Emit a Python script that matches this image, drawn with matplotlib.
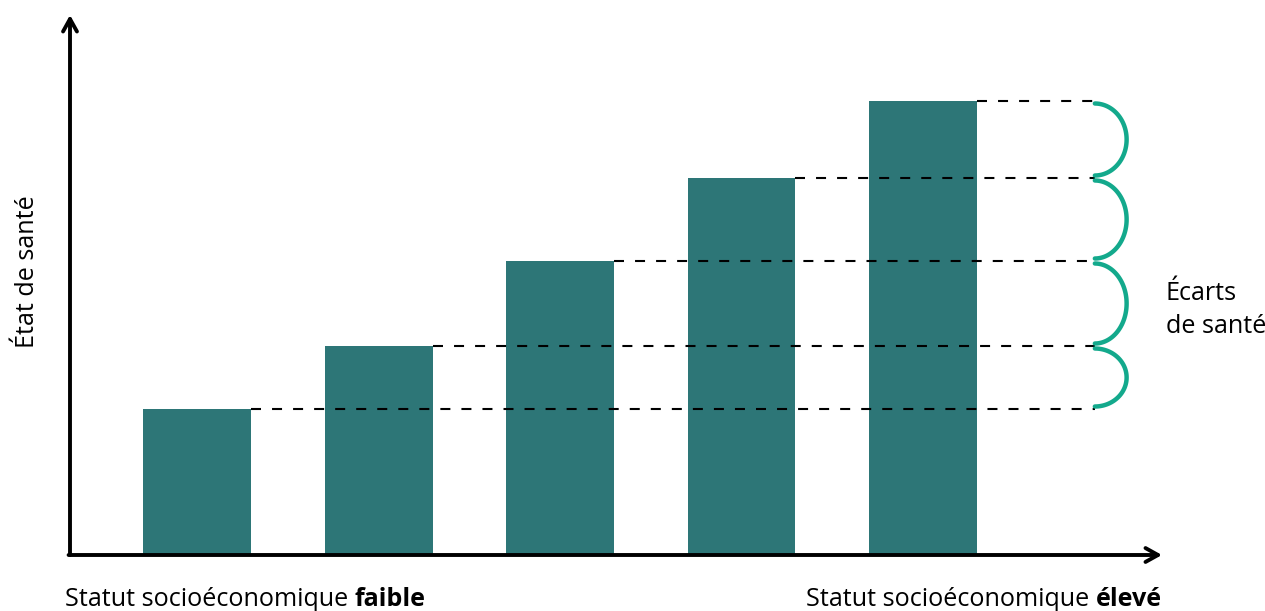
import numpy as np
import matplotlib
matplotlib.use("Agg")
import matplotlib.pyplot as plt

# ---- data ----
categories = ["Q1", "Q2", "Q3", "Q4", "Q5"]
health = [146, 209, 294, 377, 454]
ylabel = "État de santé"
gap_label = "Écarts\nde santé"
x_label_prefix = "Statut socioéconomique "
x_low = "faible"
x_high = "élevé"

BAR = "#2d7677"
GREEN = "#13a98c"
FONT = ["Open Sans", "DejaVu Sans"]
FS = 18.1

W, H = 1265, 611
fig = plt.figure(figsize=(W / 100, H / 100), dpi=100)
ax = fig.add_axes([70 / W, (H - 555) / H, (1162 - 70) / W, (555 - 15) / H])
ax.set_xlim(0.30, 6.317)
ax.set_ylim(0, 540)
ax.axis("off")

pos = np.arange(1, len(categories) + 1)
ax.bar(pos, health, width=0.595, color=BAR, zorder=2)

x_end = 5.947
for p, h in zip(pos, health):
    ax.plot([p + 0.2975, x_end], [h, h], color="black", lw=1.5,
            dashes=(4.8, 5.3), zorder=3)

# braces
bulge = 0.175
for lo, hi in zip(health[:-1], health[1:]):
    t = np.linspace(0, np.pi, 100)
    mid = (lo + hi) / 2
    half = (hi - lo) / 2 - 2.5
    xs = x_end + bulge * np.sin(t)
    ys = mid + half * np.cos(t)
    ax.plot(xs, ys, color=GREEN, lw=3.2, solid_capstyle="round", zorder=3)

# axes arrows
ax.annotate("", xy=(0, 1.0), xytext=(0, 0), xycoords="axes fraction",
            arrowprops=dict(arrowstyle="->,head_length=0.9,head_width=0.5",
                            lw=2.8, color="black", shrinkA=0, shrinkB=0))
ax.annotate("", xy=(1.0, 0), xytext=(-0.0013, 0), xycoords="axes fraction",
            arrowprops=dict(arrowstyle="->,head_length=0.9,head_width=0.5",
                            lw=2.8, color="black", shrinkA=0, shrinkB=0))

# texts
fig.text(27 / W, 1 - 272 / H, ylabel, rotation=90, ha="center", va="center",
         fontsize=FS, family=FONT)
fig.text(1166 / W, 1 - 310 / H, gap_label, ha="left", va="center",
         fontsize=FS, family=FONT, linespacing=1.4)

y_bot = 1 - 599 / H
t1 = fig.text(65 / W, y_bot, x_label_prefix, ha="left", va="center",
              fontsize=FS, family=FONT)
fig.canvas.draw()
r = fig.canvas.get_renderer()
bb = t1.get_window_extent(r)
fig.text(bb.x1 / W, y_bot, x_low, ha="left", va="center",
         fontsize=FS, family=FONT, fontweight="bold")

t3 = fig.text(1162 / W, y_bot, x_high, ha="right", va="center",
              fontsize=FS, family=FONT, fontweight="bold")
fig.canvas.draw()
bb3 = t3.get_window_extent(r)
fig.text(bb3.x0 / W, y_bot, x_label_prefix, ha="right", va="center",
         fontsize=FS, family=FONT)

fig.savefig("out.png", dpi=100)
